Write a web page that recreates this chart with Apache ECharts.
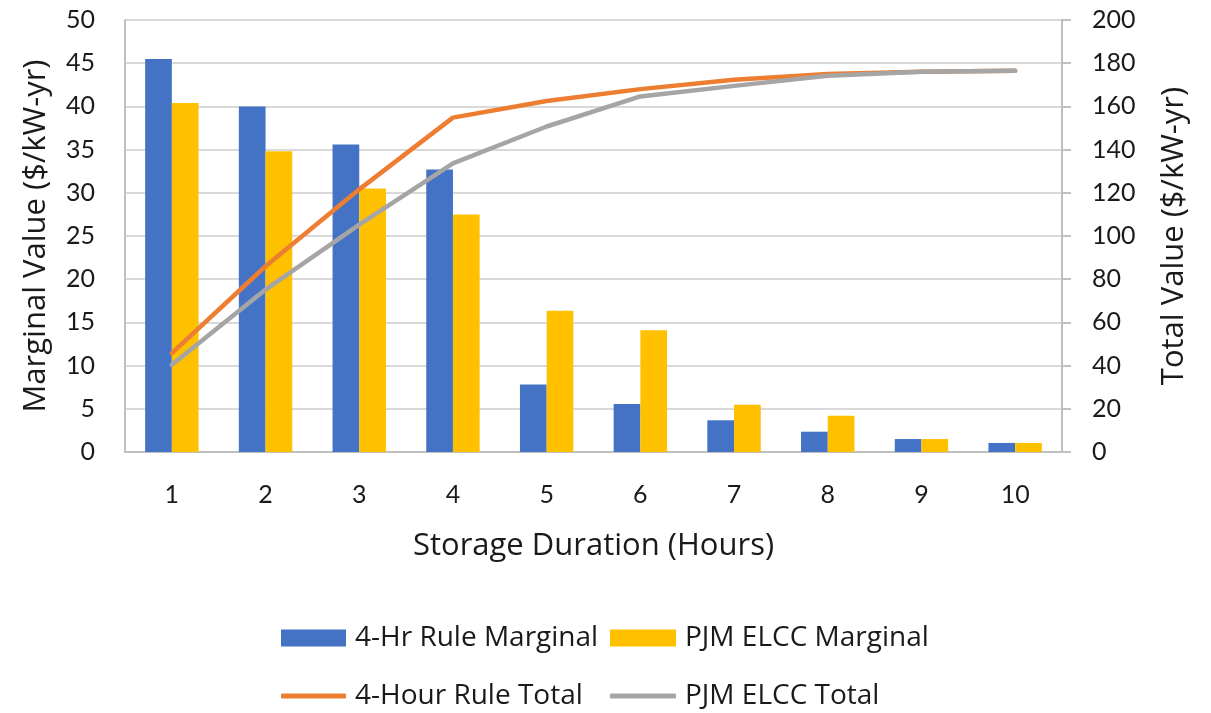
<!DOCTYPE html>
<html>
<head>
<meta charset="utf-8">
<script src="https://cdn.jsdelivr.net/npm/echarts@6/dist/echarts.min.js"></script>
<style>
html,body{margin:0;padding:0;background:#fff;}
#chart{width:1211px;height:713px;}
</style>
</head>
<body>
<div id="chart"></div>
<script>
const categories = ['1','2','3','4','5','6','7','8','9','10'];
const hrRuleMarginal = [45.5, 40.0, 35.6, 32.7, 7.8, 5.55, 3.67, 2.35, 1.5, 1.05];
const pjmElccMarginal = [40.4, 34.8, 30.5, 27.5, 16.35, 14.1, 5.48, 4.2, 1.5, 1.05];
const hourRuleTotal = [45.8, 86.0, 121.6, 154.8, 162.5, 168.0, 172.3, 175.0, 176.0, 176.5];
const pjmElccTotal = [40.4, 75.2, 105.3, 133.6, 150.7, 164.6, 169.5, 174.2, 176.0, 176.5];

const FONT = 'Lato';
const TFONT = 'Open Sans';
const TXT = '#1a1a1a';
const GRID = '#d9d9d9';
const AXIS = '#bfbfbf';

const chart = echarts.init(document.getElementById('chart'), null, {renderer:'canvas'});

function legendItem(name, left, top, icon, w, h) {
  return {
    data: [{name: name, icon: icon}],
    left: left, top: top,
    itemWidth: w, itemHeight: h,
    itemGap: 0,
    padding: 0,
    selectedMode: false,
    textStyle: {fontFamily: TFONT, fontSize: 28, color: TXT, padding: [0,0,0,4]}
  };
}

chart.setOption({
  animation: false,
  backgroundColor: '#fff',
  textStyle: {fontFamily: FONT},
  grid: {left: 125, right: 149, top: 20, bottom: 261, containLabel: false},
  legend: [
    legendItem('4-Hr Rule Marginal', 281, 624, 'rect', 65, 17),
    legendItem('PJM ELCC Marginal', 610, 624, 'rect', 66, 17),
    legendItem('4-Hour Rule Total', 281, 682, 'roundRect', 65, 5),
    legendItem('PJM ELCC Total', 610, 682, 'roundRect', 66, 5)
  ],
  xAxis: {
    type: 'category',
    data: categories,
    boundaryGap: true,
    name: 'Storage Duration (Hours)',
    nameLocation: 'middle',
    nameGap: 79,
    nameTextStyle: {fontFamily: TFONT, fontSize: 31, color: TXT},
    axisLine: {show: true, lineStyle: {color: AXIS, width: 2}},
    axisTick: {show: false},
    axisLabel: {fontFamily: FONT, fontSize: 25, color: TXT, margin: 30}
  },
  yAxis: [
    {
      type: 'value', min: 0, max: 50, interval: 5,
      name: 'Marginal Value ($/kW-yr)',
      nameLocation: 'middle',
      nameGap: 73,
      nameRotate: 90,
      nameTextStyle: {fontFamily: TFONT, fontSize: 31, color: TXT},
      axisLine: {show: true, lineStyle: {color: AXIS, width: 2}},
      axisTick: {show: false},
      axisLabel: {fontFamily: FONT, fontSize: 25, color: TXT, margin: 30},
      splitLine: {show: true, lineStyle: {color: GRID, width: 2}}
    },
    {
      type: 'value', min: 0, max: 200, interval: 20,
      position: 'right',
      name: 'Total Value ($/kW-yr)',
      nameLocation: 'middle',
      nameGap: 97,
      nameRotate: 90,
      nameTextStyle: {fontFamily: TFONT, fontSize: 31, color: TXT},
      axisLine: {show: true, lineStyle: {color: AXIS, width: 2}},
      axisTick: {show: true, inside: false, length: 9, lineStyle: {color: AXIS, width: 2}},
      axisLabel: {fontFamily: FONT, fontSize: 25, color: TXT, margin: 30, align: 'left'},
      splitLine: {show: false}
    }
  ],
  series: [
    {
      name: '4-Hr Rule Marginal', type: 'bar', yAxisIndex: 0,
      data: hrRuleMarginal, barGap: '0%', barCategoryGap: '43%',
      itemStyle: {color: '#4472C4'}, z: 2
    },
    {
      name: 'PJM ELCC Marginal', type: 'bar', yAxisIndex: 0,
      data: pjmElccMarginal, barGap: '0%', barCategoryGap: '43%',
      itemStyle: {color: '#FFC000'}, z: 2
    },
    {
      name: '4-Hour Rule Total', type: 'line', yAxisIndex: 1,
      data: hourRuleTotal, showSymbol: false, symbol: 'none',
      lineStyle: {color: '#ED7D31', width: 4.5, cap: 'round', join: 'round'},
      itemStyle: {color: '#ED7D31'}, z: 3
    },
    {
      name: 'PJM ELCC Total', type: 'line', yAxisIndex: 1,
      data: pjmElccTotal, showSymbol: false, symbol: 'none',
      lineStyle: {color: '#A5A5A5', width: 4.5, cap: 'round', join: 'round'},
      itemStyle: {color: '#A5A5A5'}, z: 4
    }
  ]
});
</script>
</body>
</html>
